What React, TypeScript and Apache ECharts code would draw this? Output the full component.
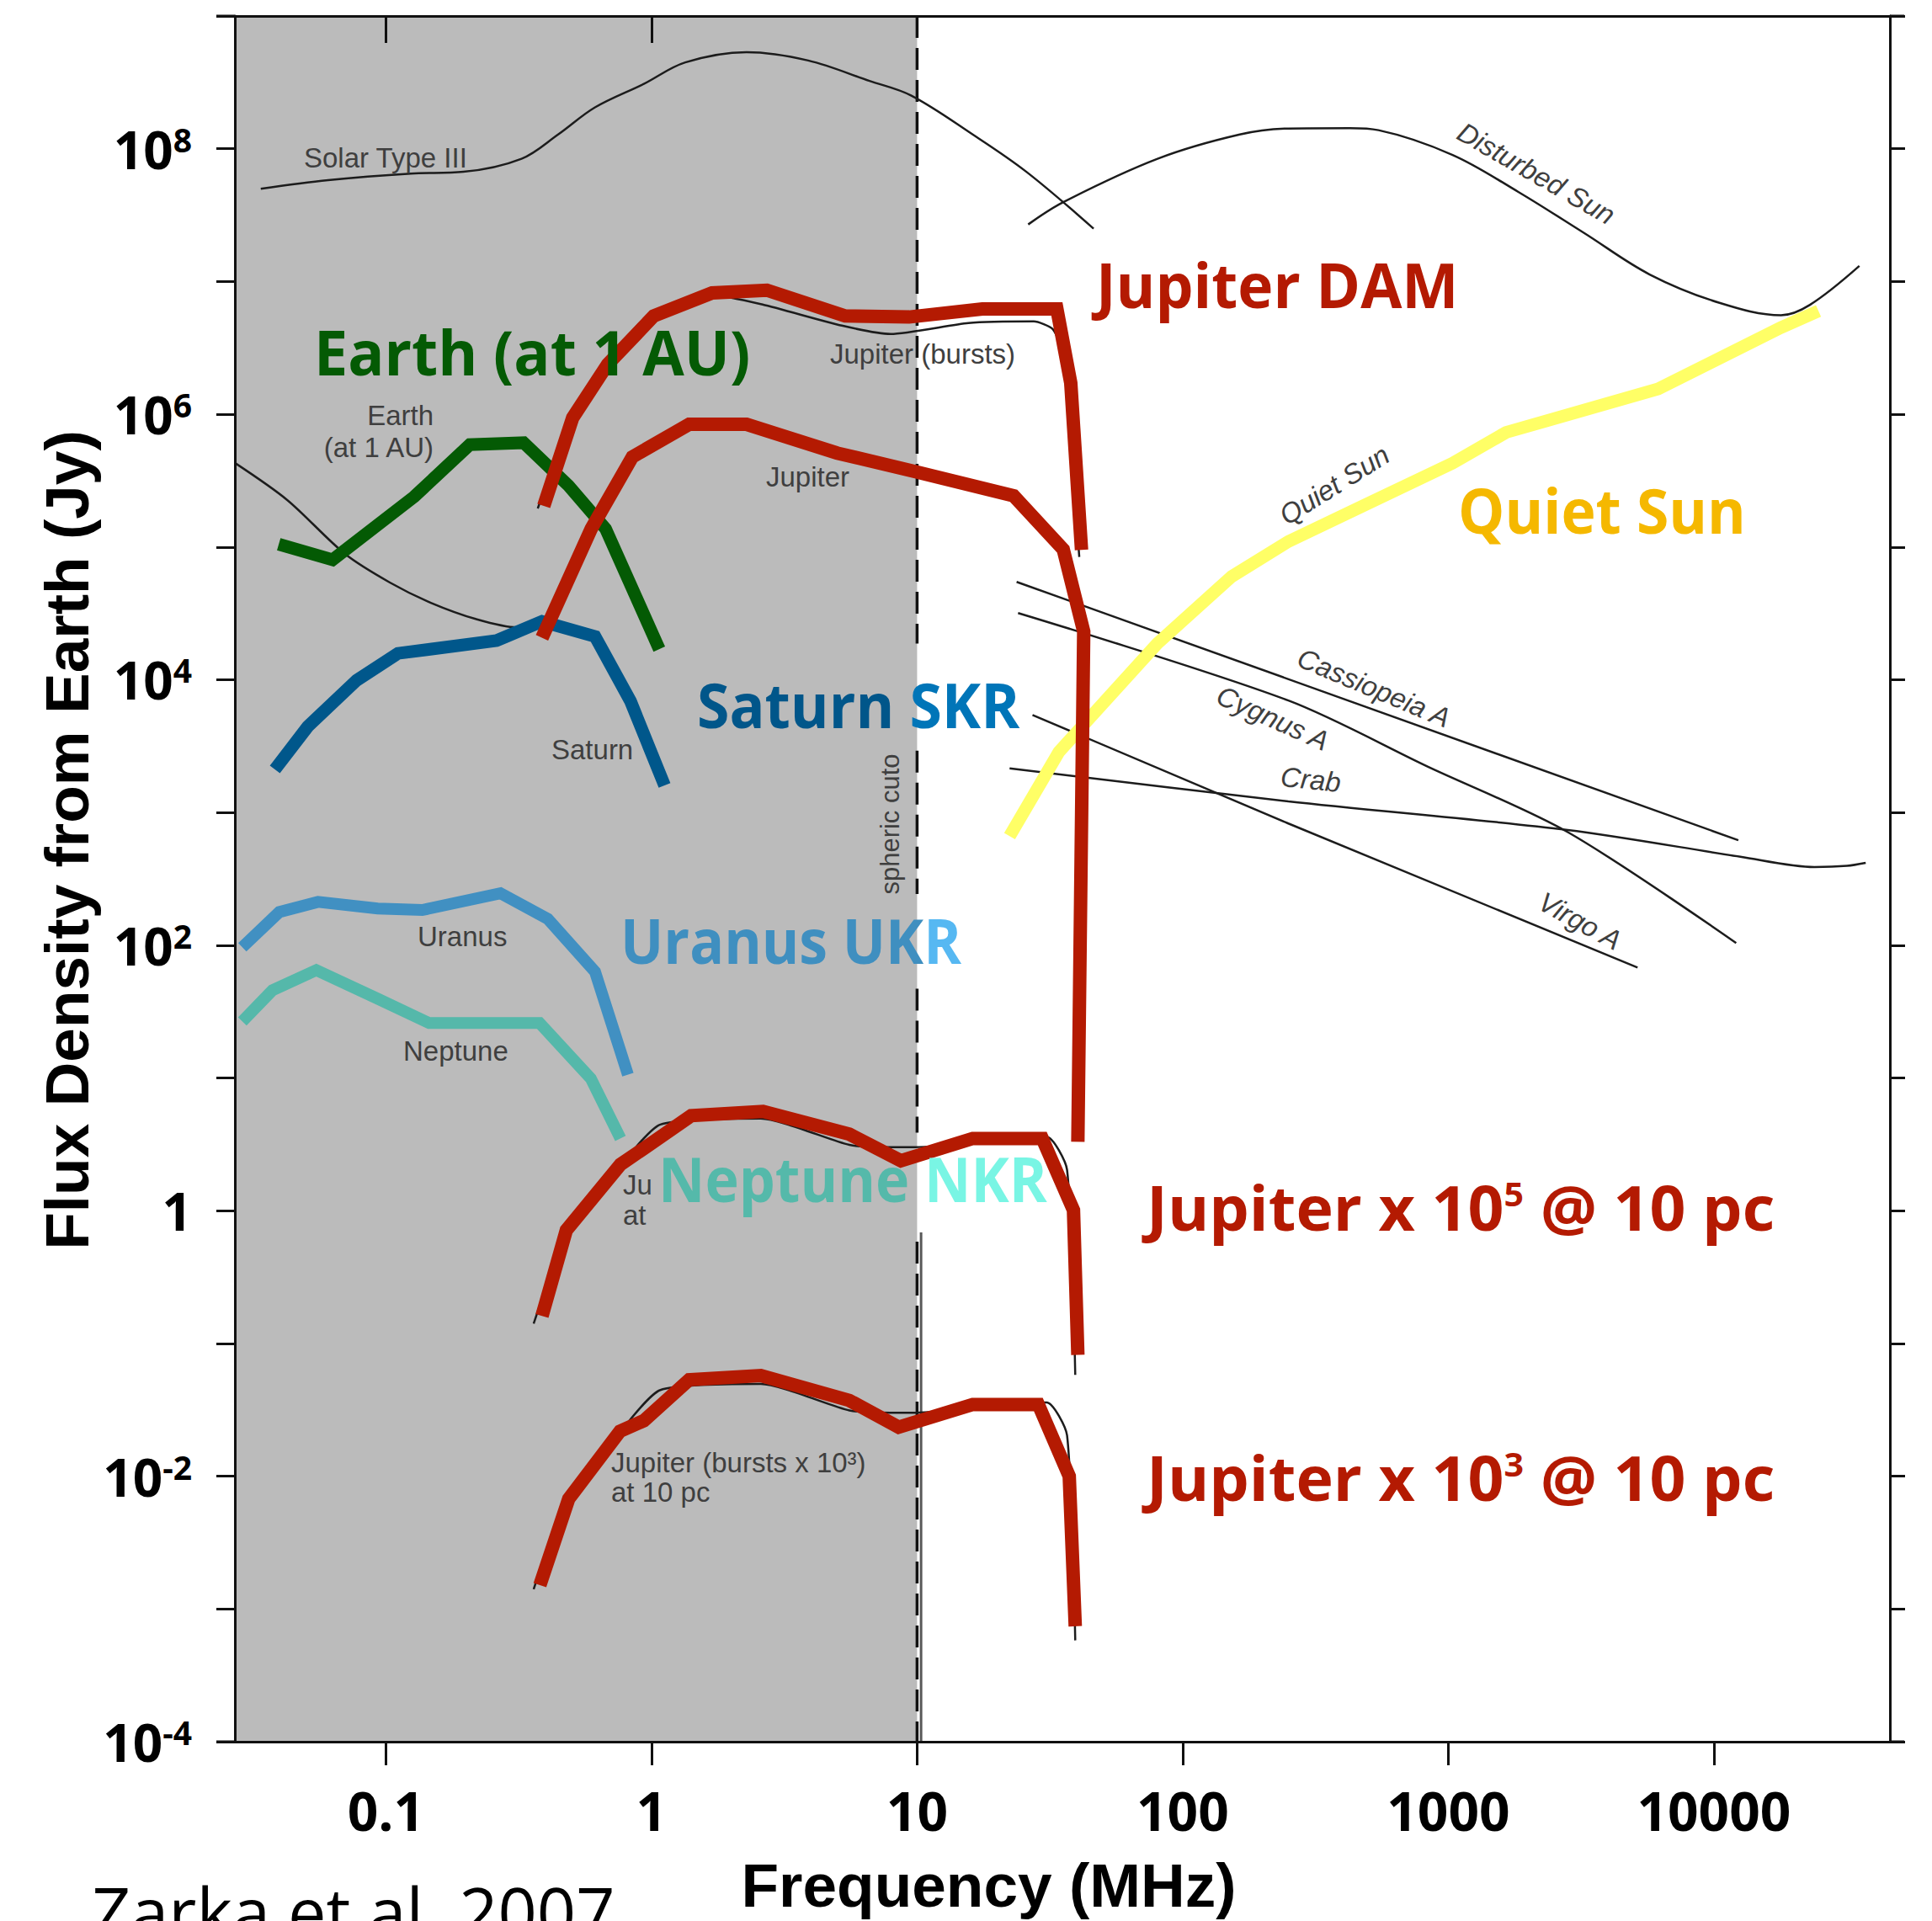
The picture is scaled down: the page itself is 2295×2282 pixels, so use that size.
import React, { useEffect, useRef } from 'react';
import * as echarts from 'echarts';

// ---------- axes ----------
const freqMin = 0.027;
const freqMax = 46000;
const fluxMin = 1e-4;
const fluxMax = 1e9;
const freqTicks = [0.1, 1, 10, 100, 1000, 10000];
const freqTickLabels = ['0.1', '1', '10', '100', '1000', '10000'];
const topFreqTicks = [0.1, 1];
const fluxTicks = [1e-4, 1e-3, 1e-2, 1e-1, 1, 1e1, 1e2, 1e3, 1e4, 1e5, 1e6, 1e7, 1e8, 1e9];
const fluxLabelValues = [1e-4, 1e-2, 1, 1e2, 1e4, 1e6, 1e8];
const fluxLabelExps = ['-4', '-2', '0', '2', '4', '6', '8'];

// ionospheric cutoff (MHz) and the flux ranges where the dashed line is visible
const ionoCutoff = 10;
const cutoffVisible = [[1e9, 1.87e4], [2925, 243], [47.1, 3.88], [0.585, 1e-4]];
const cutoffEdgeFreq = 10.35;
const cutoffEdgeFlux = [0.687, 1e-4];

// ---------- coloured (highlighted) spectra ----------
const earthFreq = [0.0395, 0.063, 0.128, 0.207, 0.33, 0.487, 0.672, 1.07];
const earthFlux = [1.05e5, 8.0e4, 2.4e5, 5.9e5, 6.1e5, 2.9e5, 1.37e5, 1.7e4];

const saturnFreq = [0.0382, 0.0508, 0.0776, 0.111, 0.261, 0.387, 0.613, 0.834, 1.12];
const saturnFlux = [2110, 4440, 9900, 1.58e4, 1.97e4, 2.75e4, 2.12e4, 6880, 1600];

const uranusFreq = [0.0288, 0.0397, 0.0555, 0.0931, 0.137, 0.27, 0.407, 0.613, 0.815];
const uranusFlux = [96.6, 178, 212, 189, 184, 246, 158, 63.2, 10.6];

const neptuneFreq = [0.0288, 0.0374, 0.0547, 0.0931, 0.1455, 0.379, 0.591, 0.764];
const neptuneFlux = [26.7, 45.8, 65, 39.6, 25.9, 25.9, 9.9, 3.5];

const jupDamFreq = [0.393, 0.505, 0.684, 1.02, 1.69, 2.72, 5.36, 9.33, 17.6, 33.6, 37.9, 41.6];
const jupDamFlux = [2.04e5, 9.4e5, 2.38e6, 5.5e6, 8.2e6, 8.6e6, 5.5e6, 5.4e6, 6.2e6, 6.2e6, 1.72e6, 9.5e4];

const jupFreq = [0.387, 0.593, 0.847, 1.386, 2.28, 5.0, 9.84, 23.1, 35.5, 42.4, 40.3];
const jupFlux = [2.07e4, 1.37e5, 4.77e5, 8.4e5, 8.4e5, 5.1e5, 3.7e5, 2.43e5, 9.6e4, 2.31e4, 3.3];

const jup5Freq = [0.387, 0.478, 0.764, 0.936, 1.41, 2.63, 5.56, 8.69, 16.2, 29.6, 38.8, 40.3];
const jup5Flux = [0.161, 0.713, 2.23, 2.94, 5.2, 5.6, 3.77, 2.38, 3.5, 3.5, 1.01, 0.082];

const jup3Freq = [0.38, 0.488, 0.761, 0.936, 1.386, 2.58, 5.56, 8.52, 16.2, 28.6, 37.4, 39.4];
const jup3Flux = [1.51e-3, 6.75e-3, 0.0218, 0.0262, 0.0533, 0.0573, 0.0372, 0.0234, 0.0347, 0.0347, 0.01, 7.4e-4];

const quietSunFreq = [22.3, 34.2, 80.4, 153, 250, 475, 1038, 1650, 6170, 17900, 24760];
const quietSunFlux = [664, 2860, 1.88e4, 6.0e4, 1.1e5, 2.03e5, 4.28e5, 7.3e5, 1.55e6, 4.5e6, 6.0e6];

// ---------- original (black) curves ----------
const solarFreq = [0.0338, 0.0606, 0.124, 0.196, 0.324, 0.445, 0.613, 0.936, 1.34, 2.28, 3.89, 6.62, 9.48, 16.2, 25.8, 46.2];
const solarFlux = [5.0e7, 5.8e7, 6.5e7, 6.7e7, 8.4e7, 1.28e8, 2.05e8, 3.08e8, 4.47e8, 5.34e8, 4.62e8, 3.24e8, 2.52e8, 1.28e8, 6.7e7, 2.5e7];

const disturbedFreq = [26.2, 35.4, 80.4, 164, 250, 426, 546, 1038, 1835, 3245, 5730, 10500, 17900, 23000, 35300];
const disturbedFlux = [2.69e7, 3.95e7, 8.4e7, 1.28e8, 1.42e8, 1.43e8, 1.38e8, 8.98e7, 4.73e7, 2.32e7, 1.13e7, 6.9e6, 5.57e6, 6.67e6, 1.31e7];

const casFreq = [23.7, 12360];
const casFlux = [5.46e4, 618];

const cygFreq = [24, 250, 839, 2818, 12130];
const cygFlux = [3.18e4, 6970, 2210, 711, 104];

const virgoFreq = [27.2, 250, 5160];
const virgoFlux = [5430, 826, 67.8];

const crabFreq = [22.3, 250, 2818, 12590, 23900, 31750, 37300];
const crabFlux = [2150, 1213, 738, 464, 388, 396, 417];

const earthOrigFreq = [0.027, 0.0425, 0.07, 0.1035, 0.1476, 0.219, 0.312, 0.387];
const earthOrigFlux = [4.3e5, 2.26e5, 8.9e4, 5.4e4, 3.8e4, 2.86e4, 2.48e4, 2.75e4];

const jupBurstFreq = [0.373, 0.5, 0.68, 0.936, 1.68, 2.62, 5.21, 7.96, 15.6, 27.5, 32.4, 35.3, 40.8];
const jupBurstFlux = [1.95e5, 9.0e5, 2.3e6, 5.2e6, 7.9e6, 6.7e6, 4.65e6, 4.02e6, 4.86e6, 5.0e6, 4.38e6, 2.91e6, 8.4e4];

const jupBurst5Freq = [0.36, 0.478, 0.734, 1.08, 2.58, 5.56, 7.94, 9.84, 30.7, 36.7, 39.4];
const jupBurst5Flux = [0.141, 0.65, 1.96, 4.46, 4.95, 3.13, 3.01, 3.01, 3.6, 2.03, 0.058];

const jupBurst3Freq = [0.36, 0.478, 0.734, 1.08, 2.58, 5.56, 7.94, 9.84, 30.7, 36.7, 39.4];
const jupBurst3Flux = [1.41e-3, 6.5e-3, 0.0196, 0.0446, 0.0495, 0.0313, 0.0301, 0.0301, 0.036, 0.0203, 5.8e-4];

// ---------- styling ----------
const RED = '#b41a02';
const GREEN = '#045a04';
const SATURN = '#00578b';
const URANUS = '#4190c2';
const NEPTUNE = '#55b8aa';
const YELLOW = '#ffff66';
const GRAY = '#bbbbbb';
const INK = '#111111';

const pairs = (xs: number[], ys: number[]) => xs.map((x, i) => [x, ys[i]]);

const thick = (name: string, xs: number[], ys: number[], color: string, width = 15) => ({
  type: 'line', name, data: pairs(xs, ys), symbol: 'none', showSymbol: false, silent: true, z: 4,
  lineStyle: { color, width, cap: 'butt', join: 'miter' },
});

const thin = (name: string, xs: number[], ys: number[], smooth: number | boolean = false) => ({
  type: 'line', name, data: pairs(xs, ys), symbol: 'none', showSymbol: false, silent: true, z: 2, smooth,
  lineStyle: { color: '#1c1c1c', width: 2.5 },
});

const SMALL = { fontFamily: 'Liberation Sans', fontSize: 33, fill: '#3f3f3f' };
const smallText = (text: string, x: number, y: number, align = 'left') => ({
  type: 'text', x, y, z: 3, silent: true,
  style: { ...SMALL, text, align, verticalAlign: 'middle' },
});
const rotText = (text: string, x: number, y: number, rotation: number, italic = true, size = 33) => ({
  type: 'text', x, y, rotation, z: 3, silent: true,
  style: { ...SMALL, fontSize: size, fontStyle: italic ? 'italic' : 'normal', text, align: 'center', verticalAlign: 'middle' },
});

const tok = (fill: string) => ({ fill, fontFamily: 'Open Sans', fontWeight: 'bold', fontSize: 73, lineHeight: 73, verticalAlign: 'middle' });
const sup = (fill: string) => ({ fill, fontFamily: 'Open Sans', fontWeight: 'bold', fontSize: 40, lineHeight: 52, verticalAlign: 'top' });
const big = (text: string, x: number, y: number, rich: any, scaleX = 1) => ({
  type: 'text', x, y, scaleX, z: 6, silent: true,
  style: { text, rich, align: 'left', verticalAlign: 'middle' },
});

export default function App() {
  const ref = useRef<HTMLDivElement>(null);

  useEffect(() => {
    const chart = echarts.init(ref.current!, null, { renderer: 'svg' });

    const xLabel = (v: number) => {
      const i = freqTicks.findIndex((t) => Math.abs(Math.log10(t) - Math.log10(v)) < 1e-6);
      return i >= 0 ? freqTickLabels[i] : '';
    };
    const yLabel = (v: number) => {
      const i = fluxLabelValues.findIndex((t) => Math.abs(Math.log10(t) - Math.log10(v)) < 1e-6);
      if (i < 0) return '';
      const e = fluxLabelExps[i];
      return e === '0' ? '{b|1}' : `{b|10}{s|${e}}`;
    };

    const cutoffData: any[] = [];
    cutoffVisible.forEach((seg, i) => {
      if (i > 0) cutoffData.push([ionoCutoff, '-']);
      cutoffData.push([ionoCutoff, seg[0]], [ionoCutoff, seg[1]]);
    });

    const axisLine = { show: true, onZero: false, lineStyle: { color: INK, width: 3 } };
    const tickStyle = { color: INK, width: 3 };

    const option: any = {
      animation: false,
      backgroundColor: '#ffffff',
      textStyle: { fontFamily: 'Open Sans' },
      grid: { left: 279, top: 19, width: 1966, height: 2050, containLabel: false, outerBoundsMode: 'none' },
      xAxis: [
        {
          type: 'log', logBase: 10, min: freqMin, max: freqMax, position: 'bottom', z: 10,
          axisLine,
          axisTick: { show: true, inside: false, length: 28, lineStyle: tickStyle, customValues: freqTicks },
          minorTick: { show: false },
          splitLine: { show: false },
          axisLabel: {
            show: true, customValues: freqTicks, margin: 49, formatter: xLabel,
            fontFamily: 'Open Sans', fontWeight: 'bold', fontSize: 64, lineHeight: 64, color: '#000',
          },
          name: 'Frequency (MHz)', nameLocation: 'middle', nameGap: 134, nameMoveOverlap: false,
          nameTextStyle: {
            fontFamily: 'Liberation Sans', fontWeight: 'bold', fontSize: 73, lineHeight: 73, color: '#000',
            padding: [0, 175, 0, 0],
          },
        },
        {
          type: 'log', logBase: 10, min: freqMin, max: freqMax, position: 'top', z: 10,
          axisLine,
          axisTick: { show: true, inside: true, length: 32, lineStyle: tickStyle, customValues: topFreqTicks },
          minorTick: { show: false },
          splitLine: { show: false },
          axisLabel: { show: false },
        },
      ],
      yAxis: [
        {
          type: 'log', logBase: 10, min: fluxMin, max: fluxMax, position: 'left', z: 10,
          axisLine,
          axisTick: { show: true, inside: false, length: 22, lineStyle: tickStyle, customValues: fluxTicks },
          minorTick: { show: false },
          splitLine: { show: false },
          axisLabel: {
            show: true, customValues: fluxLabelValues, margin: 51, formatter: yLabel,
            rich: {
              b: { fontFamily: 'Open Sans', fontWeight: 'bold', fontSize: 62, lineHeight: 62, color: '#000', verticalAlign: 'middle' },
              s: { fontFamily: 'Open Sans', fontWeight: 'bold', fontSize: 39, lineHeight: 46, color: '#000', verticalAlign: 'top' },
            },
          },
          name: 'Flux Density from Earth (Jy)', nameLocation: 'middle', nameRotate: 90, nameGap: 163, nameMoveOverlap: false,
          nameTextStyle: {
            fontFamily: 'Liberation Sans', fontWeight: 'bold', fontSize: 73, lineHeight: 73, color: '#000',
            padding: [0, 0, 0, 92],
          },
        },
        {
          type: 'log', logBase: 10, min: fluxMin, max: fluxMax, position: 'right', z: 10,
          axisLine,
          axisTick: { show: true, inside: false, length: 18, lineStyle: tickStyle, customValues: fluxTicks },
          minorTick: { show: false },
          splitLine: { show: false },
          axisLabel: { show: false },
        },
      ],
      series: [
        {
          type: 'line', name: 'below ionospheric cutoff', data: [[freqMin, fluxMax], [ionoCutoff, fluxMax]],
          symbol: 'none', silent: true, z: 0,
          lineStyle: { width: 0, color: GRAY },
          areaStyle: { color: GRAY, opacity: 1, origin: 'start' },
        },
        {
          type: 'line', name: 'ionospheric cutoff', data: cutoffData, symbol: 'none', silent: true, z: 1,
          connectNulls: false,
          lineStyle: { color: INK, width: 3.5, type: [26, 12] },
        },
        {
          type: 'line', name: 'cutoff edge', data: pairs([cutoffEdgeFreq, cutoffEdgeFreq], cutoffEdgeFlux),
          symbol: 'none', silent: true, z: 1,
          lineStyle: { color: '#222', width: 3, opacity: 0.75 },
        },
        thin('Solar Type III', solarFreq, solarFlux, 0.35),
        thin('Disturbed Sun', disturbedFreq, disturbedFlux, 0.35),
        thin('Cassiopeia A', casFreq, casFlux),
        thin('Cygnus A', cygFreq, cygFlux, 0.3),
        thin('Virgo A', virgoFreq, virgoFlux),
        thin('Crab', crabFreq, crabFlux, 0.3),
        thin('Earth (original)', earthOrigFreq, earthOrigFlux, 0.3),
        thin('Jupiter bursts (original)', jupBurstFreq, jupBurstFlux, 0.2),
        thin('Jupiter bursts x1e5 (original)', jupBurst5Freq, jupBurst5Flux, 0.2),
        thin('Jupiter bursts x1e3 (original)', jupBurst3Freq, jupBurst3Flux, 0.2),
        thick('Quiet Sun', quietSunFreq, quietSunFlux, YELLOW, 15),
        thick('Earth', earthFreq, earthFlux, GREEN, 15),
        thick('Saturn SKR', saturnFreq, saturnFlux, SATURN, 15),
        thick('Uranus UKR', uranusFreq, uranusFlux, URANUS, 14),
        thick('Neptune NKR', neptuneFreq, neptuneFlux, NEPTUNE, 14),
        thick('Jupiter DAM', jupDamFreq, jupDamFlux, RED, 16),
        thick('Jupiter', jupFreq, jupFlux, RED, 16),
        thick('Jupiter x1e5 @ 10 pc', jup5Freq, jup5Flux, RED, 16),
        thick('Jupiter x1e3 @ 10 pc', jup3Freq, jup3Flux, RED, 16),
      ],
      graphic: [
        // extensions of the frame lines past the vertical axes
        { type: 'line', z: 10, silent: true, shape: { x1: 257, y1: 19, x2: 279, y2: 19 }, style: { stroke: INK, lineWidth: 3 } },
        { type: 'line', z: 10, silent: true, shape: { x1: 2245, y1: 19, x2: 2262, y2: 19 }, style: { stroke: INK, lineWidth: 3 } },
        { type: 'line', z: 10, silent: true, shape: { x1: 257, y1: 2069, x2: 279, y2: 2069 }, style: { stroke: INK, lineWidth: 3 } },
        { type: 'line', z: 10, silent: true, shape: { x1: 2245, y1: 2069, x2: 2262, y2: 2069 }, style: { stroke: INK, lineWidth: 3 } },

        // labels from the original figure
        smallText('Solar Type III', 361, 187),
        smallText('Jupiter (bursts)', 986, 420),
        smallText('Jupiter', 910, 566),
        smallText('Earth', 515, 493, 'right'),
        smallText('(at 1 AU)', 515, 531, 'right'),
        smallText('Saturn', 655, 890),
        smallText('Uranus', 496, 1112),
        smallText('Neptune', 479, 1248),
        smallText('Ju', 740, 1407),
        smallText('at', 740, 1443),
        smallText('Jupiter (bursts x 10³)', 726, 1737),
        smallText('at 10 pc', 726, 1772),
        rotText('Disturbed Sun', 1825, 206, -0.52),
        rotText('Quiet Sun', 1585, 576, 0.56),
        rotText('Cassiopeia A', 1632, 817, -0.396),
        rotText('Cygnus A', 1512, 853, -0.42),
        rotText('Crab', 1557, 926, -0.1),
        rotText('Virgo A', 1877, 1094, -0.5),
        rotText('spheric cuto', 1057, 979, Math.PI / 2, false, 31),

        // highlighted labels
        big('{a|Jupiter DAM}', 1302, 338, { a: tok(RED) }, 0.977),
        big('{a|Earth (at 1 AU)}', 373, 418, { a: tok(GREEN) }, 0.983),
        big('{a|Saturn }{b|SKR}', 828, 837, { a: tok('#00568a'), b: tok('#0075b8') }, 0.956),
        big('{a|Uranus UK}{b|R}', 737, 1117, { a: tok('#3f8fc0'), b: tok('#56b8f2') }, 0.93),
        big('{a|Neptune }{b|NKR}', 782, 1400, { a: tok('#55b9aa'), b: tok('#79f5e4') }, 0.934),
        big('{a|Quiet Sun}', 1732, 606, { a: tok('#f5b800') }, 0.954),
        big('{a|Jupiter x 10}{s|5}{a| @ 10 pc}', 1362, 1434, { a: tok(RED), s: sup(RED) }, 1.03),
        big('{a|Jupiter x 10}{s|3}{a| @ 10 pc}', 1362, 1755, { a: tok(RED), s: sup(RED) }, 1.03),

        {
          type: 'text', x: 109, y: 2269, z: 6, silent: true,
          style: { text: 'Zarka et al. 2007', fontFamily: 'Open Sans', fontSize: 81, fill: '#000', align: 'left', verticalAlign: 'middle' },
        },
      ],
    };

    chart.setOption(option);
    return () => chart.dispose();
  }, []);

  return (
    <div
      ref={ref}
      style={{ position: 'fixed', left: 0, top: 0, width: 2295, height: 2282, background: '#ffffff' }}
    />
  );
}
